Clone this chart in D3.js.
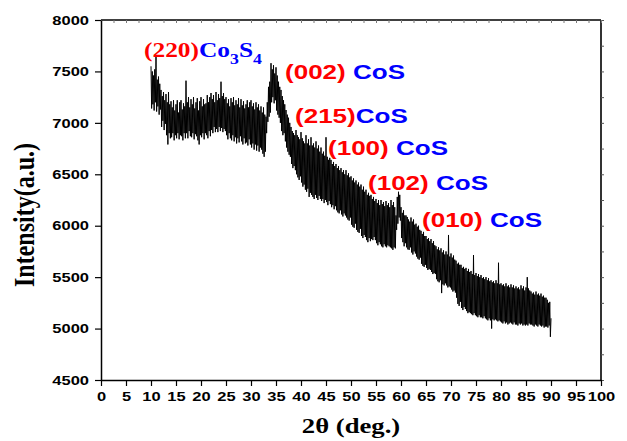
<!DOCTYPE html>
<html>
<head>
<meta charset="utf-8">
<script src="https://cdn.jsdelivr.net/npm/d3@7"></script>
<style>
  body { margin: 0; background: #fff; }
  svg { display: block; }
</style>
</head>
<body>
<div id="maincontent"></div>
<script>
// 2theta sampling grid (deg) and intensity, 0.125 deg apart
// one row per degree, 10 .. 89, then the last point at 90
var twoTheta = d3.range(10, 90.001, 0.125);
var intensity = [
  7550, 7140, 7500, 7180, 7460, 7120, 7520, 7200,
  7640, 7110, 7420, 7160, 7450, 7080, 7380, 7130,
  7320, 6960, 7260, 7020, 7300, 6930, 7220, 6990,
  7280, 6880, 7200, 6790, 7300, 6900, 7180, 6850,
  7210, 6860, 7150, 6900, 7220, 6830, 7120, 6880,
  7180, 6850, 7220, 6900, 7100, 6840, 7200, 6880,
  7220, 6870, 7130, 6830, 7190, 6900, 7160, 6850,
  7410, 6900, 7200, 6850, 7250, 6920, 7150, 6870,
  7230, 6860, 7180, 6900, 7250, 6840, 7140, 6890,
  7200, 6870, 7240, 6830, 7120, 6790, 7210, 6880,
  7250, 6860, 7160, 6900, 7230, 6840, 7180, 6900,
  7190, 6880, 7270, 6850, 7200, 6920, 7250, 6870,
  7290, 6930, 7230, 6900, 7270, 6960, 7200, 6910,
  7300, 6940, 7220, 6910, 7280, 6960, 7240, 6920,
  7400, 6950, 7260, 6910, 7290, 6940, 7230, 6920,
  7250, 6880, 7190, 6840, 7230, 6900, 7160, 6850,
  7240, 6830, 7200, 6880, 7250, 6820, 7170, 6860,
  7220, 6800, 7180, 6850, 7240, 6810, 7150, 6870,
  7230, 6820, 7170, 6790, 7210, 6850, 7140, 6800,
  7180, 6810, 7220, 6780, 7150, 6840, 7200, 6790,
  7220, 6760, 7160, 6800, 7190, 6740, 7130, 6790,
  7200, 6730, 7150, 6780, 7180, 6720, 7120, 6760,
  7160, 6740, 7100, 6700, 7150, 6670, 7080, 6720,
  7060, 6900, 7200, 7010, 7350, 7060, 7400, 7100,
  7580, 7200, 7520, 7250, 7560, 7190, 7480, 7220,
  7540, 7120, 7460, 7080, 7400, 7050, 7350, 7000,
  7320, 6920, 7260, 6880, 7220, 6900, 7180, 6820,
  7125, 6760, 7080, 6720, 7050, 6690, 7000, 6670,
  6960, 6600, 6920, 6560, 6900, 6580, 6880, 6540,
  6930, 6500, 6880, 6470, 6860, 6445, 6840, 6480,
  6910, 6420, 6850, 6380, 6820, 6400, 6800, 6350,
  6880, 6330, 6800, 6360, 6840, 6280, 6780, 6320,
  6860, 6300, 6780, 6280, 6800, 6260, 6760, 6300,
  6820, 6270, 6750, 6250, 6780, 6290, 6720, 6260,
  6760, 6240, 6700, 6260, 6720, 6220, 6680, 6250,
  6860, 6230, 6670, 6200, 6640, 6240, 6660, 6210,
  6640, 6180, 6600, 6200, 6620, 6160, 6580, 6190,
  6600, 6150, 6560, 6130, 6580, 6120, 6540, 6150,
  6560, 6110, 6520, 6090, 6540, 6120, 6500, 6100,
  6540, 6080, 6490, 6060, 6510, 6050, 6470, 6080,
  6480, 6010, 6440, 5990, 6460, 5980, 6420, 6020,
  6440, 5960, 6400, 5940, 6420, 5930, 6380, 5970,
  6400, 5900, 6350, 5880, 6380, 5910, 6330, 5890,
  6350, 5860, 6300, 5840, 6320, 5880, 6290, 5850,
  6300, 5870, 6260, 5860, 6280, 5890, 6240, 5860,
  6260, 5830, 6220, 5810, 6250, 5840, 6200, 5820,
  6250, 5800, 6210, 5790, 6230, 5820, 6190, 5800,
  6240, 5790, 6200, 5810, 6220, 5800, 6180, 5790,
  6250, 5780, 6200, 5765, 6230, 5790, 6180, 5780,
  6100, 5960, 6280, 6020, 6330, 6080, 6300, 6050,
  6180, 5880, 6125, 5840, 6150, 5800, 6100, 5830,
  6100, 5790, 6085, 5770, 6060, 5765, 6040, 5790,
  6080, 5740, 6040, 5720, 6060, 5750, 6010, 5730,
  6020, 5700, 5990, 5680, 6000, 5670, 5960, 5690,
  5950, 5630, 5920, 5610, 5940, 5600, 5900, 5620,
  5900, 5590, 5870, 5570, 5880, 5580, 5850, 5570,
  5870, 5550, 5830, 5530, 5850, 5540, 5810, 5530,
  5800, 5480, 5770, 5460, 5790, 5450, 5760, 5470,
  5780, 5345, 5740, 5430, 5760, 5420, 5720, 5440,
  5750, 5420, 5720, 5400, 5910, 5410, 5700, 5400,
  5730, 5380, 5690, 5360, 5710, 5370, 5670, 5350,
  5660, 5300, 5630, 5240, 5640, 5220, 5620, 5260,
  5620, 5200, 5590, 5180, 5600, 5210, 5580, 5190,
  5590, 5170, 5560, 5150, 5580, 5160, 5550, 5150,
  5560, 5140, 5530, 5130, 5715, 5150, 5520, 5130,
  5540, 5120, 5510, 5110, 5530, 5130, 5500, 5110,
  5520, 5110, 5490, 5100, 5500, 5120, 5480, 5100,
  5500, 5090, 5470, 5080, 5490, 5100, 5460, 5080,
  5470, 5000, 5450, 5090, 5460, 5080, 5440, 5090,
  5470, 5080, 5440, 5070, 5640, 5080, 5430, 5070,
  5440, 5060, 5420, 5050, 5430, 5070, 5410, 5050,
  5440, 5060, 5410, 5040, 5420, 5050, 5400, 5060,
  5430, 5050, 5400, 5040, 5420, 5060, 5390, 5040,
  5410, 5040, 5390, 5030, 5400, 5050, 5380, 5040,
  5420, 5050, 5390, 5030, 5410, 5040, 5370, 5030,
  5400, 5040, 5500, 5030, 5390, 5050, 5370, 5040,
  5360, 5040, 5340, 5030, 5350, 5020, 5330, 5040,
  5360, 5030, 5330, 5020, 5340, 5040, 5320, 5030,
  5340, 5020, 5310, 5030, 5320, 5010, 5300, 5020,
  5300, 5020, 5280, 5010, 5250, 5030, 5260, 4920,
  5100
];

// axis ticks
var xMajor = d3.range(0, 100.001, 5);
var xMinor = d3.range(2.5, 100, 5);
var yMajor = d3.range(4500, 8000.001, 500);
var yMinor = d3.range(4750, 8000, 500);

// peak labels: hkl (red) + phase (blue), anchored at (2theta, intensity)
var peakHkl = ["(002)", "(215)", "(100)", "(102)", "(010)"];
var peakPhase = [" CoS", "CoS", " CoS", " CoS", " CoS"];
var peakAt = [[36.8, 7426], [38.8, 6999], [45.4, 6688], [53.4, 6347], [64.2, 5988]];

var w = 627, h = 441;
var sx = 1.27; // picture is stretched sideways
var sans = "'Liberation Sans', Arial, sans-serif";
var serif = "'Liberation Serif', 'Times New Roman', serif";

var x = d3.scaleLinear().domain([0, 100]).range([101, 601]);
var y = d3.scaleLinear().domain([4500, 8000]).range([380, 20]);

var svg = d3.select("#maincontent").append("svg")
  .attr("width", w).attr("height", h);

// the trace
var line = d3.line()
  .x(function(d, i) { return x(twoTheta[i]); })
  .y(function(d) { return y(d); });

svg.append("path")
  .datum(intensity)
  .attr("d", line)
  .attr("fill", "none")
  .attr("stroke", "#000")
  .attr("stroke-width", 1)
  .attr("stroke-linejoin", "miter");

// frame: top and right
svg.append("line").attr("x1", 101).attr("x2", 601).attr("y1", 20).attr("y2", 20)
  .attr("stroke", "#000").attr("stroke-width", 1.5);
svg.append("line").attr("x1", 601).attr("x2", 601).attr("y1", 20).attr("y2", 380)
  .attr("stroke", "#333").attr("stroke-width", 2);

// right side little ticks
svg.append("g").attr("transform", "translate(601,0)")
  .call(d3.axisRight(y).tickValues(yMajor.concat(yMinor)).tickSize(3).tickFormat(""))
  .call(function(g) { g.select(".domain").remove(); })
  .selectAll("line").attr("stroke", "#555");
// top little ticks
svg.append("g").attr("transform", "translate(0,20)")
  .call(d3.axisBottom(x).tickValues(xMajor.concat(xMinor)).tickSize(3).tickFormat(""))
  .call(function(g) { g.select(".domain").remove(); })
  .selectAll("line").attr("stroke", "#777");

// left axis
var gy = svg.append("g").attr("transform", "translate(101,0)");
gy.call(d3.axisLeft(y).tickValues(yMinor).tickSize(3).tickFormat(""));
gy.call(d3.axisLeft(y).tickValues(yMajor).tickSize(6).tickPadding(6).tickSizeOuter(0).tickFormat(d3.format("d")));
gy.selectAll(".domain").attr("stroke-width", 1.5);
gy.selectAll("line").attr("stroke-width", 1.2);
gy.selectAll("text")
  .attr("x", -12 / sx)
  .attr("transform", "scale(" + sx + ",1)")
  .attr("font-family", sans).attr("font-weight", "bold").attr("font-size", 13).attr("fill", "#000");

// bottom axis
var gx = svg.append("g").attr("transform", "translate(0,380)");
gx.call(d3.axisBottom(x).tickValues(xMinor).tickSize(3).tickFormat(""));
gx.call(d3.axisBottom(x).tickValues(xMajor).tickSize(6).tickPadding(6).tickSizeOuter(0).tickFormat(d3.format("d")));
gx.selectAll(".domain").attr("stroke-width", 1.5);
gx.selectAll("line").attr("stroke-width", 1.2);
gx.selectAll("text")
  .attr("transform", "scale(" + sx + ",1)")
  .attr("font-family", sans).attr("font-weight", "bold").attr("font-size", 13).attr("fill", "#000");

// axis titles
svg.append("text")
  .attr("transform", "translate(34,215) scale(" + sx + ",1) rotate(-90)")
  .attr("text-anchor", "middle")
  .attr("font-family", serif).attr("font-weight", "bold").attr("font-size", 24)
  .text("Intensity(a.u.)");

svg.append("text")
  .attr("transform", "translate(351,433) scale(" + sx + ",1)")
  .attr("text-anchor", "middle")
  .attr("font-family", serif).attr("font-weight", "bold").attr("font-size", 21)
  .text("2\u03b8 (deg.)");

// (220) Co3S4 label
var co = svg.append("text")
  .attr("transform", "translate(144,57) scale(" + sx + ",1)")
  .attr("font-family", serif).attr("font-weight", "bold").attr("font-size", 20);
co.append("tspan").attr("fill", "red").text("(220)");
co.append("tspan").attr("fill", "blue").text("Co");
co.append("tspan").attr("fill", "blue").attr("font-size", 14).attr("dy", 7).text("3");
co.append("tspan").attr("fill", "blue").attr("dy", -7).text("S");
co.append("tspan").attr("fill", "blue").attr("font-size", 14).attr("dy", 7).text("4");

// CoS labels
peakHkl.forEach(function(hkl, i) {
  var t = svg.append("text")
    .attr("transform", "translate(" + x(peakAt[i][0]) + "," + y(peakAt[i][1]) + ") scale(" + sx + ",1)")
    .attr("font-family", sans).attr("font-weight", "bold").attr("font-size", 20.5);
  t.append("tspan").attr("fill", "red").text(hkl);
  t.append("tspan").attr("fill", "blue").attr("xml:space", "preserve").text(peakPhase[i]);
});
</script>
</body>
</html>
